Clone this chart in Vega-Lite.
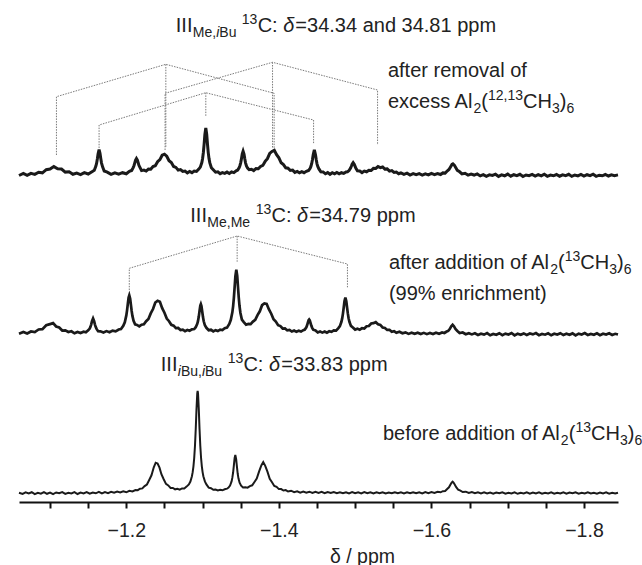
{
"$schema": "https://vega.github.io/schema/vega-lite/v6.json",
"padding": {"left": 13, "top": 0, "right": 0, "bottom": 0},
"spacing": 0,
"bounds": "flush",
"config": {"view": {"stroke": null}, "text": {"font": "Liberation Sans"}},
"datasets": {
"A": [{"p":-1.0593,"i":-0.5},{"p":-1.065,"i":1.6},{"p":-1.07,"i":-0.4},{"p":-1.075,"i":1.6},{"p":-1.08,"i":0.6},{"p":-1.085,"i":2.8},{"p":-1.09,"i":2.2},{"p":-1.095,"i":5.3},{"p":-1.1,"i":5.9},{"p":-1.105,"i":8.4},{"p":-1.11,"i":6.3},{"p":-1.115,"i":6.0},{"p":-1.12,"i":2.9},{"p":-1.125,"i":3.2},{"p":-1.13,"i":0.7},{"p":-1.135,"i":1.9},{"p":-1.14,"i":0.4},{"p":-1.145,"i":2.3},{"p":-1.15,"i":1.0},{"p":-1.155,"i":3.3},{"p":-1.158,"i":4.7},{"p":-1.16,"i":8.6},{"p":-1.161,"i":11.6},{"p":-1.162,"i":16.0},{"p":-1.163,"i":21.3},{"p":-1.1643,"i":25.3},{"p":-1.1655,"i":21.8},{"p":-1.1665,"i":16.5},{"p":-1.1675,"i":11.9},{"p":-1.169,"i":7.9},{"p":-1.171,"i":4.0},{"p":-1.175,"i":2.9},{"p":-1.18,"i":0.6},{"p":-1.185,"i":2.2},{"p":-1.19,"i":0.9},{"p":-1.195,"i":2.3},{"p":-1.2,"i":1.2},{"p":-1.204,"i":3.6},{"p":-1.207,"i":4.5},{"p":-1.209,"i":7.4},{"p":-1.21,"i":9.3},{"p":-1.211,"i":11.9},{"p":-1.212,"i":14.6},{"p":-1.2133,"i":16.4},{"p":-1.2145,"i":14.9},{"p":-1.2155,"i":12.3},{"p":-1.2165,"i":9.7},{"p":-1.218,"i":7.4},{"p":-1.22,"i":4.4},{"p":-1.223,"i":4.9},{"p":-1.226,"i":3.9},{"p":-1.229,"i":5.9},{"p":-1.232,"i":5.7},{"p":-1.235,"i":8.5},{"p":-1.238,"i":9.3},{"p":-1.241,"i":13.3},{"p":-1.244,"i":15.4},{"p":-1.247,"i":19.8},{"p":-1.25,"i":20.8},{"p":-1.253,"i":18.8},{"p":-1.256,"i":14.3},{"p":-1.259,"i":12.5},{"p":-1.262,"i":8.5},{"p":-1.265,"i":7.6},{"p":-1.268,"i":4.9},{"p":-1.271,"i":5.4},{"p":-1.274,"i":3.5},{"p":-1.277,"i":3.9},{"p":-1.28,"i":2.1},{"p":-1.283,"i":3.5},{"p":-1.286,"i":2.3},{"p":-1.289,"i":3.9},{"p":-1.292,"i":3.5},{"p":-1.295,"i":5.9},{"p":-1.297,"i":7.9},{"p":-1.299,"i":12.5},{"p":-1.3,"i":16.5},{"p":-1.301,"i":22.5},{"p":-1.302,"i":30.9},{"p":-1.303,"i":40.6},{"p":-1.3042,"i":47.0},{"p":-1.3054,"i":40.6},{"p":-1.3064,"i":30.9},{"p":-1.3074,"i":22.4},{"p":-1.3084,"i":16.4},{"p":-1.3095,"i":12.1},{"p":-1.3115,"i":7.2},{"p":-1.314,"i":5.2},{"p":-1.317,"i":2.8},{"p":-1.32,"i":3.2},{"p":-1.323,"i":1.3},{"p":-1.326,"i":2.4},{"p":-1.329,"i":1.6},{"p":-1.332,"i":2.9},{"p":-1.335,"i":1.5},{"p":-1.338,"i":3.1},{"p":-1.341,"i":2.4},{"p":-1.344,"i":4.2},{"p":-1.346,"i":5.0},{"p":-1.348,"i":7.4},{"p":-1.349,"i":9.5},{"p":-1.35,"i":12.4},{"p":-1.351,"i":16.6},{"p":-1.352,"i":21.2},{"p":-1.3531,"i":23.8},{"p":-1.3543,"i":20.9},{"p":-1.3553,"i":16.2},{"p":-1.3563,"i":12.2},{"p":-1.3575,"i":9.0},{"p":-1.359,"i":6.9},{"p":-1.361,"i":5.3},{"p":-1.364,"i":5.7},{"p":-1.367,"i":4.4},{"p":-1.37,"i":6.4},{"p":-1.373,"i":6.2},{"p":-1.376,"i":8.6},{"p":-1.379,"i":9.6},{"p":-1.382,"i":13.6},{"p":-1.385,"i":16.3},{"p":-1.388,"i":21.7},{"p":-1.391,"i":23.6},{"p":-1.394,"i":24.8},{"p":-1.397,"i":20.4},{"p":-1.4,"i":17.2},{"p":-1.403,"i":12.2},{"p":-1.406,"i":10.4},{"p":-1.409,"i":7.2},{"p":-1.412,"i":6.8},{"p":-1.415,"i":4.5},{"p":-1.418,"i":4.9},{"p":-1.421,"i":2.6},{"p":-1.424,"i":3.6},{"p":-1.427,"i":2.2},{"p":-1.43,"i":3.4},{"p":-1.433,"i":2.3},{"p":-1.436,"i":3.7},{"p":-1.439,"i":4.6},{"p":-1.441,"i":6.7},{"p":-1.442,"i":8.6},{"p":-1.443,"i":11.3},{"p":-1.444,"i":15.3},{"p":-1.445,"i":20.3},{"p":-1.4465,"i":25.1},{"p":-1.448,"i":20.3},{"p":-1.449,"i":15.3},{"p":-1.45,"i":11.2},{"p":-1.451,"i":8.5},{"p":-1.4525,"i":6.1},{"p":-1.455,"i":3.2},{"p":-1.458,"i":3.1},{"p":-1.461,"i":1.2},{"p":-1.464,"i":2.4},{"p":-1.467,"i":0.7},{"p":-1.47,"i":2.3},{"p":-1.473,"i":1.1},{"p":-1.476,"i":2.5},{"p":-1.479,"i":1.1},{"p":-1.482,"i":2.3},{"p":-1.485,"i":1.55},{"p":-1.488,"i":3.1},{"p":-1.49,"i":3.2},{"p":-1.492,"i":4.4},{"p":-1.494,"i":6.9},{"p":-1.495,"i":8.7},{"p":-1.496,"i":10.7},{"p":-1.4974,"i":12.3},{"p":-1.4988,"i":10.8},{"p":-1.4998,"i":8.9},{"p":-1.501,"i":6.7},{"p":-1.503,"i":4.2},{"p":-1.506,"i":4.0},{"p":-1.509,"i":2.4},{"p":-1.512,"i":3.9},{"p":-1.515,"i":3.2},{"p":-1.518,"i":4.8},{"p":-1.521,"i":4.5},{"p":-1.524,"i":6.7},{"p":-1.527,"i":6.6},{"p":-1.53,"i":8.5},{"p":-1.533,"i":7.4},{"p":-1.536,"i":8.0},{"p":-1.539,"i":5.9},{"p":-1.542,"i":6.1},{"p":-1.545,"i":3.9},{"p":-1.548,"i":4.4},{"p":-1.551,"i":2.5},{"p":-1.554,"i":3.0},{"p":-1.557,"i":1.3},{"p":-1.56,"i":2.2},{"p":-1.564,"i":0.7},{"p":-1.568,"i":1.8},{"p":-1.572,"i":0.0},{"p":-1.576,"i":1.35},{"p":-1.58,"i":0.3},{"p":-1.584,"i":1.4},{"p":-1.588,"i":-0.1},{"p":-1.592,"i":1.15},{"p":-1.596,"i":0.1},{"p":-1.6,"i":1.6},{"p":-1.604,"i":0.35},{"p":-1.608,"i":1.5},{"p":-1.612,"i":0.5},{"p":-1.615,"i":2.1},{"p":-1.618,"i":1.9},{"p":-1.621,"i":4.2},{"p":-1.623,"i":5.5},{"p":-1.625,"i":8.0},{"p":-1.627,"i":10.6},{"p":-1.6282,"i":11.2},{"p":-1.63,"i":9.9},{"p":-1.632,"i":7.2},{"p":-1.634,"i":4.6},{"p":-1.637,"i":3.2},{"p":-1.64,"i":1.1},{"p":-1.644,"i":1.7},{"p":-1.648,"i":-0.1},{"p":-1.652,"i":0.95},{"p":-1.656,"i":-0.05},{"p":-1.66,"i":1.1},{"p":-1.664,"i":-0.9},{"p":-1.668,"i":0.4},{"p":-1.672,"i":-1.3},{"p":-1.676,"i":0.2},{"p":-1.68,"i":-0.5},{"p":-1.684,"i":0.8},{"p":-1.688,"i":-1.4},{"p":-1.692,"i":0.1},{"p":-1.696,"i":-0.8},{"p":-1.7,"i":0.9},{"p":-1.704,"i":-1.2},{"p":-1.708,"i":0.3},{"p":-1.712,"i":-0.6},{"p":-1.716,"i":0.7},{"p":-1.72,"i":-1.5},{"p":-1.724,"i":0.0},{"p":-1.728,"i":-0.7},{"p":-1.732,"i":0.6},{"p":-1.736,"i":-1.1},{"p":-1.74,"i":0.4},{"p":-1.744,"i":-0.9},{"p":-1.748,"i":0.8},{"p":-1.752,"i":-1.3},{"p":-1.756,"i":-0.1},{"p":-1.76,"i":-0.8},{"p":-1.764,"i":0.5},{"p":-1.768,"i":-1.2},{"p":-1.772,"i":0.2},{"p":-1.776,"i":-0.6},{"p":-1.78,"i":0.7},{"p":-1.784,"i":-1.4},{"p":-1.788,"i":0.0},{"p":-1.792,"i":-0.9},{"p":-1.796,"i":0.6},{"p":-1.8,"i":-1.1},{"p":-1.804,"i":0.3},{"p":-1.808,"i":-0.7},{"p":-1.812,"i":0.8},{"p":-1.816,"i":-1.3},{"p":-1.82,"i":-0.2},{"p":-1.824,"i":-0.8},{"p":-1.828,"i":0.5},{"p":-1.832,"i":-1.0},{"p":-1.836,"i":0.2},{"p":-1.84,"i":-0.6},{"p":-1.8446,"i":0.1}],
"B": [{"p":-1.0593,"i":0.2},{"p":-1.065,"i":2.0},{"p":-1.07,"i":0.5},{"p":-1.075,"i":2.5},{"p":-1.08,"i":1.9},{"p":-1.085,"i":4.5},{"p":-1.09,"i":4.9},{"p":-1.095,"i":8.7},{"p":-1.1,"i":9.9},{"p":-1.104,"i":10.9},{"p":-1.108,"i":7.5},{"p":-1.112,"i":6.5},{"p":-1.116,"i":3.5},{"p":-1.12,"i":3.7},{"p":-1.124,"i":2.0},{"p":-1.128,"i":2.7},{"p":-1.132,"i":0.7},{"p":-1.136,"i":2.1},{"p":-1.14,"i":0.9},{"p":-1.144,"i":2.3},{"p":-1.147,"i":1.7},{"p":-1.15,"i":3.6},{"p":-1.152,"i":5.4},{"p":-1.153,"i":7.2},{"p":-1.154,"i":9.7},{"p":-1.155,"i":12.9},{"p":-1.1564,"i":15.6},{"p":-1.1578,"i":12.9},{"p":-1.1588,"i":9.7},{"p":-1.1598,"i":7.2},{"p":-1.161,"i":5.1},{"p":-1.163,"i":2.8},{"p":-1.166,"i":2.7},{"p":-1.17,"i":1.5},{"p":-1.174,"i":2.9},{"p":-1.178,"i":1.7},{"p":-1.182,"i":3.4},{"p":-1.186,"i":2.6},{"p":-1.19,"i":4.5},{"p":-1.193,"i":5.0},{"p":-1.196,"i":8.1},{"p":-1.198,"i":11.7},{"p":-1.2,"i":18.6},{"p":-1.201,"i":23.9},{"p":-1.202,"i":30.4},{"p":-1.203,"i":36.4},{"p":-1.2039,"i":38.6},{"p":-1.205,"i":35.5},{"p":-1.206,"i":29.3},{"p":-1.207,"i":23.0},{"p":-1.208,"i":18.1},{"p":-1.2095,"i":13.1},{"p":-1.2115,"i":9.6},{"p":-1.214,"i":9.1},{"p":-1.217,"i":7.7},{"p":-1.22,"i":9.3},{"p":-1.223,"i":9.7},{"p":-1.226,"i":12.8},{"p":-1.229,"i":15.0},{"p":-1.232,"i":20.6},{"p":-1.235,"i":25.0},{"p":-1.238,"i":31.5},{"p":-1.241,"i":33.3},{"p":-1.244,"i":32.3},{"p":-1.247,"i":25.9},{"p":-1.25,"i":21.3},{"p":-1.253,"i":15.4},{"p":-1.256,"i":12.8},{"p":-1.259,"i":9.2},{"p":-1.262,"i":8.3},{"p":-1.265,"i":5.8},{"p":-1.268,"i":6.0},{"p":-1.271,"i":3.9},{"p":-1.274,"i":4.4},{"p":-1.277,"i":2.9},{"p":-1.28,"i":4.0},{"p":-1.283,"i":3.3},{"p":-1.286,"i":4.6},{"p":-1.289,"i":5.0},{"p":-1.291,"i":6.8},{"p":-1.293,"i":10.2},{"p":-1.294,"i":13.1},{"p":-1.295,"i":17.4},{"p":-1.296,"i":23.1},{"p":-1.297,"i":28.5},{"p":-1.2977,"i":29.9},{"p":-1.2985,"i":28.0},{"p":-1.2995,"i":22.5},{"p":-1.3005,"i":16.9},{"p":-1.3015,"i":12.7},{"p":-1.303,"i":8.7},{"p":-1.305,"i":6.2},{"p":-1.308,"i":3.8},{"p":-1.311,"i":4.2},{"p":-1.314,"i":2.6},{"p":-1.317,"i":3.85},{"p":-1.32,"i":2.9},{"p":-1.323,"i":4.4},{"p":-1.326,"i":3.9},{"p":-1.329,"i":5.7},{"p":-1.332,"i":6.4},{"p":-1.335,"i":10.1},{"p":-1.337,"i":14.2},{"p":-1.339,"i":21.7},{"p":-1.34,"i":27.7},{"p":-1.341,"i":36.1},{"p":-1.342,"i":46.8},{"p":-1.343,"i":57.9},{"p":-1.3442,"i":64.4},{"p":-1.3454,"i":58.0},{"p":-1.3464,"i":47.0},{"p":-1.3474,"i":36.4},{"p":-1.3484,"i":28.0},{"p":-1.3496,"i":21.0},{"p":-1.3515,"i":14.4},{"p":-1.354,"i":11.9},{"p":-1.357,"i":9.3},{"p":-1.36,"i":10.1},{"p":-1.363,"i":9.9},{"p":-1.366,"i":12.4},{"p":-1.369,"i":14.2},{"p":-1.372,"i":18.9},{"p":-1.375,"i":22.7},{"p":-1.378,"i":28.8},{"p":-1.381,"i":30.6},{"p":-1.384,"i":30.1},{"p":-1.387,"i":24.6},{"p":-1.39,"i":20.3},{"p":-1.393,"i":14.7},{"p":-1.396,"i":12.4},{"p":-1.399,"i":8.8},{"p":-1.402,"i":7.9},{"p":-1.405,"i":5.5},{"p":-1.408,"i":5.6},{"p":-1.411,"i":3.6},{"p":-1.414,"i":4.1},{"p":-1.417,"i":2.5},{"p":-1.42,"i":3.5},{"p":-1.423,"i":2.2},{"p":-1.426,"i":3.2},{"p":-1.429,"i":2.4},{"p":-1.432,"i":3.8},{"p":-1.434,"i":4.4},{"p":-1.436,"i":6.7},{"p":-1.437,"i":8.7},{"p":-1.438,"i":11.3},{"p":-1.439,"i":13.8},{"p":-1.4397,"i":14.5},{"p":-1.4405,"i":13.6},{"p":-1.4415,"i":11.0},{"p":-1.4425,"i":8.4},{"p":-1.4435,"i":6.4},{"p":-1.445,"i":4.3},{"p":-1.448,"i":3.6},{"p":-1.451,"i":1.5},{"p":-1.454,"i":2.5},{"p":-1.457,"i":1.4},{"p":-1.46,"i":2.5},{"p":-1.463,"i":1.3},{"p":-1.466,"i":2.7},{"p":-1.469,"i":2.1},{"p":-1.472,"i":3.6},{"p":-1.475,"i":3.4},{"p":-1.478,"i":5.9},{"p":-1.48,"i":7.9},{"p":-1.482,"i":12.2},{"p":-1.483,"i":15.6},{"p":-1.484,"i":20.4},{"p":-1.485,"i":26.4},{"p":-1.486,"i":32.7},{"p":-1.4872,"i":36.4},{"p":-1.4884,"i":32.7},{"p":-1.4894,"i":26.5},{"p":-1.4904,"i":20.6},{"p":-1.4914,"i":15.8},{"p":-1.4926,"i":11.9},{"p":-1.4945,"i":8.1},{"p":-1.497,"i":6.5},{"p":-1.5,"i":4.4},{"p":-1.503,"i":5.2},{"p":-1.506,"i":4.3},{"p":-1.509,"i":5.9},{"p":-1.512,"i":5.5},{"p":-1.515,"i":7.8},{"p":-1.518,"i":8.0},{"p":-1.521,"i":10.5},{"p":-1.524,"i":10.8},{"p":-1.527,"i":11.8},{"p":-1.53,"i":9.7},{"p":-1.533,"i":9.1},{"p":-1.536,"i":6.5},{"p":-1.539,"i":6.1},{"p":-1.542,"i":4.1},{"p":-1.545,"i":4.2},{"p":-1.548,"i":2.2},{"p":-1.551,"i":2.8},{"p":-1.554,"i":1.3},{"p":-1.558,"i":2.25},{"p":-1.562,"i":0.75},{"p":-1.566,"i":1.65},{"p":-1.57,"i":0.1},{"p":-1.574,"i":1.25},{"p":-1.578,"i":0.25},{"p":-1.582,"i":1.3},{"p":-1.586,"i":0.0},{"p":-1.59,"i":1.15},{"p":-1.594,"i":-0.15},{"p":-1.598,"i":1.0},{"p":-1.602,"i":0.0},{"p":-1.606,"i":1.3},{"p":-1.61,"i":0.3},{"p":-1.614,"i":1.55},{"p":-1.617,"i":1.0},{"p":-1.62,"i":2.5},{"p":-1.622,"i":3.1},{"p":-1.624,"i":4.9},{"p":-1.626,"i":7.7},{"p":-1.6278,"i":9.2},{"p":-1.6295,"i":7.8},{"p":-1.6315,"i":5.0},{"p":-1.634,"i":3.1},{"p":-1.637,"i":1.0},{"p":-1.641,"i":1.5},{"p":-1.645,"i":-0.2},{"p":-1.649,"i":0.8},{"p":-1.653,"i":-0.4},{"p":-1.657,"i":0.7},{"p":-1.661,"i":-1.0},{"p":-1.665,"i":0.3},{"p":-1.669,"i":-0.6},{"p":-1.673,"i":0.9},{"p":-1.677,"i":-1.3},{"p":-1.681,"i":0.1},{"p":-1.685,"i":-0.7},{"p":-1.689,"i":0.8},{"p":-1.693,"i":-1.1},{"p":-1.697,"i":0.4},{"p":-1.701,"i":-0.5},{"p":-1.705,"i":1.0},{"p":-1.709,"i":-1.4},{"p":-1.713,"i":0.2},{"p":-1.717,"i":-0.8},{"p":-1.721,"i":0.6},{"p":-1.725,"i":-1.0},{"p":-1.729,"i":0.5},{"p":-1.733,"i":-0.4},{"p":-1.737,"i":0.9},{"p":-1.741,"i":-1.2},{"p":-1.745,"i":0.0},{"p":-1.749,"i":-0.7},{"p":-1.753,"i":0.7},{"p":-1.757,"i":-1.3},{"p":-1.761,"i":0.3},{"p":-1.765,"i":-0.6},{"p":-1.769,"i":0.8},{"p":-1.773,"i":-1.1},{"p":-1.777,"i":0.2},{"p":-1.781,"i":-0.8},{"p":-1.785,"i":0.6},{"p":-1.789,"i":-1.4},{"p":-1.793,"i":0.4},{"p":-1.797,"i":-0.5},{"p":-1.801,"i":0.9},{"p":-1.805,"i":-1.0},{"p":-1.809,"i":0.1},{"p":-1.813,"i":-0.7},{"p":-1.817,"i":0.7},{"p":-1.821,"i":-1.2},{"p":-1.825,"i":0.3},{"p":-1.829,"i":-0.6},{"p":-1.833,"i":0.8},{"p":-1.837,"i":-0.9},{"p":-1.841,"i":0.2},{"p":-1.8446,"i":-0.5}],
"C": [{"p":-1.0593,"i":0.3},{"p":-1.064,"i":-0.9},{"p":-1.068,"i":0.6},{"p":-1.072,"i":-0.4},{"p":-1.076,"i":0.8},{"p":-1.08,"i":-1.1},{"p":-1.084,"i":0.2},{"p":-1.088,"i":-0.6},{"p":-1.092,"i":0.9},{"p":-1.096,"i":-0.8},{"p":-1.1,"i":0.4},{"p":-1.104,"i":-1.2},{"p":-1.108,"i":0.5},{"p":-1.112,"i":-0.3},{"p":-1.116,"i":0.9},{"p":-1.12,"i":-0.9},{"p":-1.124,"i":0.2},{"p":-1.128,"i":-0.5},{"p":-1.132,"i":0.8},{"p":-1.136,"i":-1.0},{"p":-1.14,"i":0.4},{"p":-1.144,"i":-0.4},{"p":-1.148,"i":0.9},{"p":-1.152,"i":-0.7},{"p":-1.156,"i":0.5},{"p":-1.16,"i":-0.3},{"p":-1.164,"i":1.1},{"p":-1.168,"i":-0.4},{"p":-1.172,"i":0.9},{"p":-1.176,"i":-0.1},{"p":-1.18,"i":1.2},{"p":-1.184,"i":0.2},{"p":-1.188,"i":1.4},{"p":-1.192,"i":0.5},{"p":-1.196,"i":1.6},{"p":-1.2,"i":0.7},{"p":-1.204,"i":2.2},{"p":-1.208,"i":1.6},{"p":-1.212,"i":3.0},{"p":-1.215,"i":2.8},{"p":-1.218,"i":4.25},{"p":-1.221,"i":4.6},{"p":-1.224,"i":6.9},{"p":-1.227,"i":8.5},{"p":-1.23,"i":13.0},{"p":-1.233,"i":17.7},{"p":-1.236,"i":25.7},{"p":-1.2385,"i":30.3},{"p":-1.241,"i":29.5},{"p":-1.2435,"i":25.4},{"p":-1.246,"i":18.8},{"p":-1.249,"i":13.8},{"p":-1.252,"i":9.1},{"p":-1.255,"i":7.6},{"p":-1.258,"i":5.1},{"p":-1.261,"i":5.1},{"p":-1.264,"i":3.7},{"p":-1.267,"i":4.3},{"p":-1.27,"i":3.4},{"p":-1.273,"i":4.6},{"p":-1.276,"i":4.55},{"p":-1.279,"i":6.4},{"p":-1.282,"i":8.6},{"p":-1.284,"i":11.5},{"p":-1.286,"i":16.7},{"p":-1.287,"i":20.8},{"p":-1.288,"i":26.7},{"p":-1.289,"i":35.0},{"p":-1.29,"i":47.0},{"p":-1.291,"i":63.8},{"p":-1.292,"i":83.9},{"p":-1.293,"i":99.7},{"p":-1.2935,"i":102.1},{"p":-1.294,"i":99.7},{"p":-1.295,"i":83.9},{"p":-1.296,"i":63.8},{"p":-1.297,"i":47.0},{"p":-1.298,"i":35.0},{"p":-1.299,"i":26.7},{"p":-1.3,"i":20.9},{"p":-1.301,"i":16.8},{"p":-1.303,"i":11.6},{"p":-1.305,"i":8.6},{"p":-1.308,"i":5.4},{"p":-1.311,"i":4.8},{"p":-1.314,"i":3.2},{"p":-1.317,"i":3.5},{"p":-1.32,"i":2.6},{"p":-1.323,"i":3.3},{"p":-1.326,"i":2.7},{"p":-1.329,"i":3.7},{"p":-1.332,"i":4.3},{"p":-1.334,"i":5.4},{"p":-1.336,"i":7.5},{"p":-1.338,"i":11.6},{"p":-1.339,"i":15.3},{"p":-1.34,"i":20.5},{"p":-1.341,"i":27.6},{"p":-1.342,"i":35.0},{"p":-1.3429,"i":38.0},{"p":-1.344,"i":33.8},{"p":-1.345,"i":26.3},{"p":-1.346,"i":19.5},{"p":-1.347,"i":14.7},{"p":-1.3485,"i":10.3},{"p":-1.3505,"i":7.4},{"p":-1.353,"i":5.55},{"p":-1.356,"i":5.7},{"p":-1.359,"i":5.3},{"p":-1.362,"i":6.85},{"p":-1.365,"i":7.7},{"p":-1.368,"i":11.05},{"p":-1.371,"i":14.4},{"p":-1.374,"i":21.4},{"p":-1.377,"i":27.6},{"p":-1.3795,"i":30.9},{"p":-1.382,"i":27.4},{"p":-1.385,"i":21.3},{"p":-1.388,"i":14.2},{"p":-1.391,"i":10.75},{"p":-1.394,"i":7.05},{"p":-1.397,"i":6.1},{"p":-1.4,"i":3.9},{"p":-1.403,"i":3.9},{"p":-1.406,"i":2.5},{"p":-1.409,"i":2.9},{"p":-1.412,"i":1.5},{"p":-1.416,"i":2.3},{"p":-1.42,"i":0.9},{"p":-1.424,"i":1.7},{"p":-1.428,"i":0.4},{"p":-1.432,"i":1.4},{"p":-1.436,"i":0.3},{"p":-1.44,"i":1.3},{"p":-1.444,"i":0.04},{"p":-1.448,"i":1.1},{"p":-1.452,"i":0.13},{"p":-1.456,"i":1.1},{"p":-1.46,"i":-0.26},{"p":-1.464,"i":0.9},{"p":-1.468,"i":0.0},{"p":-1.472,"i":0.9},{"p":-1.476,"i":-0.2},{"p":-1.48,"i":0.7},{"p":-1.484,"i":-0.3},{"p":-1.488,"i":0.8},{"p":-1.492,"i":-0.4},{"p":-1.496,"i":0.85},{"p":-1.5,"i":-0.3},{"p":-1.504,"i":0.6},{"p":-1.508,"i":-0.4},{"p":-1.512,"i":0.9},{"p":-1.516,"i":-0.2},{"p":-1.52,"i":0.7},{"p":-1.524,"i":-0.5},{"p":-1.528,"i":0.6},{"p":-1.532,"i":-0.3},{"p":-1.536,"i":0.8},{"p":-1.54,"i":-0.4},{"p":-1.544,"i":0.5},{"p":-1.548,"i":-0.3},{"p":-1.552,"i":0.8},{"p":-1.556,"i":-0.3},{"p":-1.56,"i":0.6},{"p":-1.564,"i":-0.4},{"p":-1.568,"i":0.7},{"p":-1.572,"i":-0.3},{"p":-1.576,"i":0.8},{"p":-1.58,"i":-0.3},{"p":-1.584,"i":0.7},{"p":-1.588,"i":-0.4},{"p":-1.592,"i":0.85},{"p":-1.596,"i":-0.15},{"p":-1.6,"i":0.85},{"p":-1.604,"i":0.05},{"p":-1.608,"i":1.15},{"p":-1.612,"i":0.7},{"p":-1.615,"i":1.8},{"p":-1.618,"i":2.0},{"p":-1.621,"i":4.2},{"p":-1.623,"i":5.7},{"p":-1.625,"i":8.4},{"p":-1.6265,"i":10.3},{"p":-1.6278,"i":11.3},{"p":-1.629,"i":10.4},{"p":-1.6305,"i":8.5},{"p":-1.6325,"i":5.8},{"p":-1.635,"i":3.4},{"p":-1.638,"i":2.4},{"p":-1.641,"i":1.0},{"p":-1.645,"i":1.35},{"p":-1.649,"i":0.0},{"p":-1.653,"i":0.9},{"p":-1.657,"i":-0.2},{"p":-1.661,"i":0.65},{"p":-1.665,"i":-0.4},{"p":-1.669,"i":0.6},{"p":-1.673,"i":-0.5},{"p":-1.677,"i":0.4},{"p":-1.681,"i":-0.7},{"p":-1.685,"i":0.5},{"p":-1.689,"i":-0.3},{"p":-1.693,"i":0.7},{"p":-1.697,"i":-0.6},{"p":-1.701,"i":0.3},{"p":-1.705,"i":-0.5},{"p":-1.709,"i":0.6},{"p":-1.713,"i":-0.8},{"p":-1.717,"i":0.2},{"p":-1.721,"i":-0.4},{"p":-1.725,"i":0.7},{"p":-1.729,"i":-0.6},{"p":-1.733,"i":0.4},{"p":-1.737,"i":-0.5},{"p":-1.741,"i":0.6},{"p":-1.745,"i":-0.7},{"p":-1.749,"i":0.3},{"p":-1.753,"i":-0.4},{"p":-1.757,"i":0.7},{"p":-1.761,"i":-0.6},{"p":-1.765,"i":0.2},{"p":-1.769,"i":-0.5},{"p":-1.773,"i":0.6},{"p":-1.777,"i":-0.7},{"p":-1.781,"i":0.4},{"p":-1.785,"i":-0.3},{"p":-1.789,"i":0.6},{"p":-1.793,"i":-0.6},{"p":-1.797,"i":0.3},{"p":-1.801,"i":-0.5},{"p":-1.805,"i":0.7},{"p":-1.809,"i":-0.4},{"p":-1.813,"i":0.2},{"p":-1.817,"i":-0.6},{"p":-1.821,"i":0.5},{"p":-1.825,"i":-0.4},{"p":-1.829,"i":0.6},{"p":-1.833,"i":-0.7},{"p":-1.837,"i":0.3},{"p":-1.841,"i":-0.5},{"p":-1.8446,"i":0.2}],
"bracketsA": [{"s":"b1","o":1,"p":-1.1084,"i":20},{"s":"b1","o":2,"p":-1.1084,"i":78.3},{"s":"b1","o":3,"p":-1.2518,"i":110.7},{"s":"b1","o":4,"p":-1.3938,"i":81.7},{"s":"b1","o":5,"p":-1.3938,"i":25},{"s":"b1c","o":1,"p":-1.2518,"i":110.7},{"s":"b1c","o":2,"p":-1.2518,"i":27},{"s":"b2","o":1,"p":-1.2508,"i":25},{"s":"b2","o":2,"p":-1.2508,"i":81.7},{"s":"b2","o":3,"p":-1.3917,"i":112.7},{"s":"b2","o":4,"p":-1.5294,"i":85},{"s":"b2","o":5,"p":-1.5294,"i":30},{"s":"b2c","o":1,"p":-1.3917,"i":112.7},{"s":"b2c","o":2,"p":-1.3917,"i":27},{"s":"b3","o":1,"p":-1.1643,"i":27},{"s":"b3","o":2,"p":-1.1643,"i":50},{"s":"b3","o":3,"p":-1.3042,"i":82.3},{"s":"b3","o":4,"p":-1.4455,"i":55},{"s":"b3","o":5,"p":-1.4455,"i":31.7},{"s":"b3c","o":1,"p":-1.3042,"i":82.3},{"s":"b3c","o":2,"p":-1.3042,"i":58.3}],
"bracketsB": [{"s":"m","o":1,"p":-1.2039,"i":44},{"s":"m","o":2,"p":-1.2039,"i":65.7},{"s":"m","o":3,"p":-1.3453,"i":98},{"s":"m","o":4,"p":-1.4899,"i":70},{"s":"m","o":5,"p":-1.4899,"i":46.7},{"s":"mc","o":1,"p":-1.3453,"i":98},{"s":"mc","o":2,"p":-1.3453,"i":72.3}]
},
"vconcat": [
{
"width": 599, "height": 190,
"encoding": {
"x": {"field": "p", "type": "quantitative", "scale": {"domain": [-1.8446, -1.0593], "reverse": true, "nice": false, "zero": false}, "axis": null},
"y": {"field": "i", "type": "quantitative", "scale": {"domain": [-15, 175], "nice": false, "zero": false}, "axis": null}
},
"layer": [
{"data": {"name": "bracketsA"}, "mark": {"type": "line", "color": "#7a7a7a", "strokeWidth": 1, "strokeDash": [1.5, 1.2]}, "encoding": {"detail": {"field": "s"}, "order": {"field": "o"}}},
{"data": {"name": "A"}, "mark": {"type": "line", "color": "#1a1a1a", "strokeWidth": 3}, "encoding": {}},
{"data": {"values": [{"p":-1.26486,"i":143,"t":"III"},{"p":-1.37215,"i":143,"t":"C:"},{"p":-1.4216,"i":143,"t":"=34.34 and 34.81 ppm"},{"p":-1.54292,"i":98.3,"t":"after removal of"},{"p":-1.54292,"i":66.7,"t":"excess Al"},{"p":-1.66543,"i":66.7,"t":"("},{"p":-1.72012,"i":66.7,"t":"CH"},{"p":-1.76826,"i":66.7,"t":")"}]},
 "mark": {"type": "text", "align": "left", "baseline": "alphabetic", "fontSize": 20, "color": "#222"}, "encoding": {"text": {"field": "t"}}},
{"data": {"values": [{"p":-1.40586,"i":143,"t":"δ"}]},
 "mark": {"type": "text", "align": "left", "baseline": "alphabetic", "fontSize": 20, "fontStyle": "italic", "color": "#222"}, "encoding": {"text": {"field": "t"}}},
{"data": {"values": [{"p":-1.28717,"i":143,"t":"Me,"},{"p":-1.32192,"i":143,"t":"Bu"},{"p":-1.6552,"i":66.7,"t":"2"},{"p":-1.75803,"i":66.7,"t":"3"},{"p":-1.77705,"i":66.7,"t":"6"}]},
 "mark": {"type": "text", "align": "left", "baseline": "alphabetic", "fontSize": 14, "dy": 5, "color": "#222"}, "encoding": {"text": {"field": "t"}}},
{"data": {"values": [{"p":-1.31798,"i":143,"t":"i"}]},
 "mark": {"type": "text", "align": "left", "baseline": "alphabetic", "fontSize": 14, "fontStyle": "italic", "dy": 5, "color": "#222"}, "encoding": {"text": {"field": "t"}}},
{"data": {"values": [{"p":-1.35143,"i":143,"t":"13"},{"p":-1.67421,"i":66.7,"t":"12,13"}]},
 "mark": {"type": "text", "align": "left", "baseline": "alphabetic", "fontSize": 14, "dy": -8, "color": "#222"}, "encoding": {"text": {"field": "t"}}}
]
},
{
"width": 599, "height": 155,
"encoding": {
"x": {"field": "p", "type": "quantitative", "scale": {"domain": [-1.8446, -1.0593], "reverse": true, "nice": false, "zero": false}, "axis": null},
"y": {"field": "i", "type": "quantitative", "scale": {"domain": [-11, 144], "nice": false, "zero": false}, "axis": null}
},
"layer": [
{"data": {"name": "bracketsB"}, "mark": {"type": "line", "color": "#7a7a7a", "strokeWidth": 1, "strokeDash": [1.5, 1.2]}, "encoding": {"detail": {"field": "s"}, "order": {"field": "o"}}},
{"data": {"name": "B"}, "mark": {"type": "line", "color": "#1a1a1a", "strokeWidth": 2.7}, "encoding": {}},
{"data": {"values": [{"p":-1.28388,"i":112,"t":"III"},{"p":-1.39025,"i":112,"t":"C:"},{"p":-1.43997,"i":112,"t":"=34.79 ppm"},{"p":-1.54423,"i":65,"t":"after addition of Al"},{"p":-1.76589,"i":65,"t":"("},{"p":-1.79514,"i":65,"t":"CH"},{"p":-1.84328,"i":65,"t":")"},{"p":-1.54423,"i":34,"t":"(99% enrichment)"}]},
 "mark": {"type": "text", "align": "left", "baseline": "alphabetic", "fontSize": 20, "color": "#222"}, "encoding": {"text": {"field": "t"}}},
{"data": {"values": [{"p":-1.42383,"i":112,"t":"δ"}]},
 "mark": {"type": "text", "align": "left", "baseline": "alphabetic", "fontSize": 20, "fontStyle": "italic", "color": "#222"}, "encoding": {"text": {"field": "t"}}},
{"data": {"values": [{"p":-1.30618,"i":112,"t":"Me,Me"},{"p":-1.75566,"i":65,"t":"2"},{"p":-1.83305,"i":65,"t":"3"},{"p":-1.85207,"i":65,"t":"6"}]},
 "mark": {"type": "text", "align": "left", "baseline": "alphabetic", "fontSize": 14, "dy": 5, "color": "#222"}, "encoding": {"text": {"field": "t"}}},
{"data": {"values": [{"p":-1.36979,"i":112,"t":"13"},{"p":-1.77468,"i":65,"t":"13"}]},
 "mark": {"type": "text", "align": "left", "baseline": "alphabetic", "fontSize": 14, "dy": -8, "color": "#222"}, "encoding": {"text": {"field": "t"}}}
]
},
{
"width": 599, "height": 157,
"encoding": {
"x": {"field": "p", "type": "quantitative", "scale": {"domain": [-1.8446, -1.0593], "reverse": true, "nice": false, "zero": false},
  "axis": {"values": [-1.1,-1.15,-1.2,-1.25,-1.3,-1.35,-1.4,-1.45,-1.5,-1.55,-1.6,-1.65,-1.7,-1.75,-1.8],
   "labelExpr": "abs(round(datum.value*100)) % 20 == 0 ? format(datum.value, '.1f') : ''",
   "grid": false, "domainColor": "#111", "domainWidth": 2, "tickColor": "#111", "tickWidth": 2, "tickSize": 6,
   "labelFont": "Liberation Sans", "labelFontSize": 19.5, "labelColor": "#222", "labelBaseline": "alphabetic", "labelPadding": 28, "labelOverlap": false, "labelFlush": false,
   "title": "δ / ppm", "titleFont": "Liberation Sans", "titleFontSize": 19.5, "titleFontWeight": "normal", "titleColor": "#222", "titleBaseline": "alphabetic", "titleX": 343, "titleY": 60, "titleAlign": "center"}},
"y": {"field": "i", "type": "quantitative", "scale": {"domain": [-9, 148], "nice": false, "zero": false}, "axis": null}
},
"layer": [
{"data": {"name": "C"}, "mark": {"type": "line", "color": "#1a1a1a", "strokeWidth": 2.0}, "encoding": {}},
{"data": {"values": [{"p":-1.24519,"i":122,"t":"III"},{"p":-1.35353,"i":122,"t":"C:"},{"p":-1.40324,"i":122,"t":"=33.83 ppm"},{"p":-1.53636,"i":53,"t":"before addition of Al"},{"p":-1.77993,"i":53,"t":"("},{"p":-1.80918,"i":53,"t":"CH"},{"p":-1.85732,"i":53,"t":")"}]},
 "mark": {"type": "text", "align": "left", "baseline": "alphabetic", "fontSize": 20, "color": "#222"}, "encoding": {"text": {"field": "t"}}},
{"data": {"values": [{"p":-1.38711,"i":122,"t":"δ"}]},
 "mark": {"type": "text", "align": "left", "baseline": "alphabetic", "fontSize": 20, "fontStyle": "italic", "color": "#222"}, "encoding": {"text": {"field": "t"}}},
{"data": {"values": [{"p":-1.27156,"i":122,"t":"Bu,"},{"p":-1.30317,"i":122,"t":"Bu"},{"p":-1.7697,"i":53,"t":"2"},{"p":-1.84709,"i":53,"t":"3"},{"p":-1.8661,"i":53,"t":"6"}]},
 "mark": {"type": "text", "align": "left", "baseline": "alphabetic", "fontSize": 14, "dy": 5, "color": "#222"}, "encoding": {"text": {"field": "t"}}},
{"data": {"values": [{"p":-1.26749,"i":122,"t":"i"},{"p":-1.2991,"i":122,"t":"i"}]},
 "mark": {"type": "text", "align": "left", "baseline": "alphabetic", "fontSize": 14, "fontStyle": "italic", "dy": 5, "color": "#222"}, "encoding": {"text": {"field": "t"}}},
{"data": {"values": [{"p":-1.33307,"i":122,"t":"13"},{"p":-1.78872,"i":53,"t":"13"}]},
 "mark": {"type": "text", "align": "left", "baseline": "alphabetic", "fontSize": 14, "dy": -8, "color": "#222"}, "encoding": {"text": {"field": "t"}}}
]
}
]
}
